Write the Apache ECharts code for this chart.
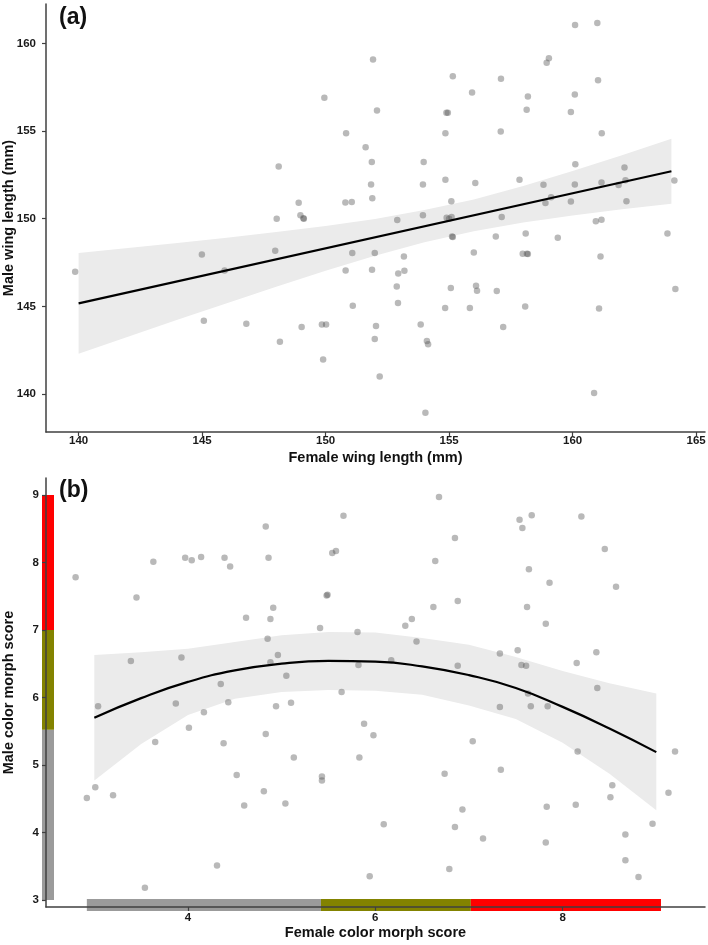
<!DOCTYPE html>
<html>
<head>
<meta charset="utf-8">
<script src="https://cdn.jsdelivr.net/npm/echarts@6/dist/echarts.min.js"></script>
<style>
  html, body { margin: 0; padding: 0; background: #fff; }
  #chart { width: 708px; height: 945px; }
</style>
</head>
<body>
<div id="chart"></div>
<script>
// panel (a) - wing length of pairs
var wingFemale = [149.95, 150.83, 148.1, 148.91, 150.8, 151.06, 148.02, 148.98, 149.1, 149.12,
  160.1, 161.0, 151.92, 159.04, 158.95, 155.15, 157.1, 161.03, 155.93, 158.19,
  160.09, 152.08, 154.89, 154.95, 158.14, 159.93, 154.85, 157.09, 161.18, 151.62,
  151.87, 153.97, 160.11, 162.1, 151.84, 153.94, 154.85, 156.06, 157.85, 158.82,
  160.09, 161.17, 161.86, 162.14, 164.12, 151.89, 155.09, 159.13, 158.9, 159.93,
  162.18, 152.9, 153.94, 154.9, 155.1, 155.0, 157.13, 160.94, 161.17, 155.15,
  155.12, 156.89, 158.1, 159.4, 163.84, 139.86, 144.99, 147.96, 151.08, 145.91,
  150.81, 151.1, 145.07, 146.79, 149.03, 149.85, 150.02, 148.15, 149.9, 151.99,
  153.17, 156.0, 157.98, 158.19, 158.15, 161.13, 151.88, 152.94, 153.19, 152.88,
  155.07, 156.09, 156.13, 156.93, 164.16, 152.93, 154.84, 155.84, 158.08, 161.07,
  152.04, 153.85, 157.19, 151.99, 154.1, 154.15, 152.19, 160.87, 154.04];
var wingMale = [156.9, 154.87, 152.98, 150.91, 150.92, 150.96, 150.0, 150.2, 150.03, 150.0,
  161.05, 161.17, 159.08, 159.16, 158.9, 158.13, 157.99, 157.9, 157.2, 156.97,
  157.08, 156.17, 156.05, 156.05, 156.21, 156.09, 154.88, 154.97, 154.88, 154.08,
  153.23, 153.24, 153.11, 152.92, 151.95, 151.95, 152.22, 152.03, 152.22, 151.93,
  151.95, 152.06, 151.92, 152.2, 152.18, 151.17, 151.0, 151.23, 150.89, 150.98,
  151.0, 149.92, 150.2, 150.05, 150.1, 150.0, 150.1, 149.86, 149.94, 148.95,
  148.98, 148.99, 149.16, 148.91, 149.16, 146.97, 147.96, 148.17, 148.04, 147.05,
  147.05, 145.03, 144.18, 144.01, 143.82, 143.97, 143.97, 142.98, 141.97, 148.04,
  147.85, 148.07, 148.0, 147.98, 148.0, 147.85, 147.09, 146.88, 147.03, 146.13,
  146.04, 146.17, 145.89, 145.87, 145.99, 145.19, 144.9, 144.9, 144.99, 144.88,
  143.88, 143.97, 143.82, 143.14, 143.02, 142.83, 141.0, 140.06, 138.93];
var wingFitX = [140, 164];
var wingFitY = [145.17, 152.71];
var wingBandX = [140, 142, 144, 146, 148, 150, 152, 154, 156, 158, 160, 162, 164];
var wingUpper = [148.04, 148.33, 148.62, 148.92, 149.24, 149.59, 149.99, 150.49, 151.10, 151.86, 152.72, 153.62, 154.56];
var wingLower = [142.30, 143.27, 144.24, 145.18, 146.12, 147.03, 147.89, 148.65, 149.28, 149.78, 150.18, 150.54, 150.86];
var wingXTicks = [140, 145, 150, 155, 160, 165];
var wingYTicks = [140, 145, 150, 155, 160];

// panel (b) - colour morph scores
var morphFemale = [2.80, 3.45, 3.63, 3.97, 4.04, 4.14, 4.39, 4.45, 4.83, 4.86,
  5.66, 5.54, 5.58, 5.48, 5.49, 4.62, 4.91, 4.88, 5.41, 5.81,
  4.85, 4.96, 4.88, 3.39, 3.93, 5.05, 4.35, 5.64, 5.82, 6.68,
  7.54, 7.67, 7.57, 8.20, 6.85, 8.45, 6.64, 7.64, 7.86, 8.57,
  6.62, 6.88, 7.62, 7.82, 6.32, 6.39, 6.44, 7.33, 7.52, 8.36,
  6.17, 6.88, 7.56, 7.61, 8.15, 8.37, 7.63, 3.04, 3.87, 4.43,
  4.17, 4.94, 5.10, 4.01, 3.65, 4.38, 4.83, 5.13, 5.83, 3.01,
  2.92, 3.20, 4.52, 5.43, 5.43, 4.81, 4.60, 5.04, 4.31, 3.54,
  7.33, 7.66, 7.84, 5.88, 5.98, 7.04, 8.16, 9.20, 6.74, 7.34,
  8.53, 8.51, 9.13, 7.83, 8.14, 6.93, 6.09, 6.85, 7.15, 7.82,
  8.67, 8.96, 8.67, 8.81, 5.94, 6.79];
var morphMale = [7.78, 7.48, 8.01, 8.07, 8.03, 8.08, 8.07, 7.94, 8.53, 8.07,
  8.69, 8.14, 8.17, 7.51, 7.52, 7.18, 7.33, 7.16, 7.03, 6.97,
  6.87, 6.63, 6.52, 6.54, 6.59, 6.32, 6.20, 6.08, 6.48, 8.97,
  8.63, 8.70, 8.51, 8.68, 8.36, 8.20, 8.02, 7.90, 7.70, 7.64,
  7.34, 7.43, 7.34, 7.09, 7.06, 7.16, 6.83, 6.65, 6.70, 6.67,
  6.55, 6.47, 6.48, 6.47, 6.51, 6.14, 6.06, 5.87, 5.91, 5.93,
  5.78, 5.87, 5.92, 5.55, 5.34, 5.32, 5.46, 5.11, 5.11, 4.67,
  4.51, 4.55, 4.85, 4.83, 4.77, 4.61, 4.40, 4.43, 3.51, 3.18,
  5.86, 5.87, 5.87, 5.61, 5.44, 5.35, 5.20, 5.20, 4.87, 4.93,
  4.70, 4.52, 4.59, 4.38, 4.41, 4.34, 4.12, 4.08, 3.91, 3.85,
  3.97, 4.13, 3.59, 3.34, 3.35, 3.46];
var morphFitX = [3, 3.5, 4, 4.5, 5, 5.5, 6, 6.5, 7, 7.5, 8, 8.5, 9];
var morphFitY = [5.70, 5.99, 6.23, 6.40, 6.50, 6.54, 6.53, 6.46, 6.33, 6.14, 5.86, 5.54, 5.19];
var morphUpper = [6.63, 6.67, 6.72, 6.82, 6.92, 6.97, 6.96, 6.88, 6.78, 6.60, 6.39, 6.21, 6.06];
var morphLower = [4.77, 5.31, 5.74, 5.98, 6.08, 6.11, 6.10, 6.04, 5.88, 5.68, 5.33, 4.87, 4.33];
var morphXTicks = [4, 6, 8];
var morphYTicks = [3, 4, 5, 6, 7, 8, 9];
var morphBarColors = ['#9b9b9b', '#838300', '#ff0000'];
var morphYBreaks = [3, 5.52, 7, 9];
var morphXBreaks = [2.92, 5.42, 7.02, 9.05];

var FONT = '"Liberation Sans", Arial, sans-serif';
var AXIS_COLOR = '#404040';

function pairs(xs, ys) {
  var out = [];
  for (var i = 0; i < xs.length; i++) out.push([xs[i], ys[i]]);
  return out;
}

function segments(breaks) {
  var out = [];
  for (var i = 0; i < breaks.length - 1; i++) out.push([breaks[i], breaks[i + 1], i]);
  return out;
}

function bandSeries(idx, xs, lo, hi) {
  return {
    type: 'custom',
    xAxisIndex: idx,
    yAxisIndex: idx,
    silent: true,
    z: 1,
    data: [0],
    renderItem: function (params, api) {
      var pts = [];
      for (var i = 0; i < xs.length; i++) pts.push(api.coord([xs[i], hi[i]]));
      for (var j = xs.length - 1; j >= 0; j--) pts.push(api.coord([xs[j], lo[j]]));
      return { type: 'polygon', shape: { points: pts }, style: { fill: '#ebebeb' } };
    }
  };
}

function valueAxis(grid, min, max, ticks, pos, margin, name, gap) {
  return {
    type: 'value',
    gridIndex: grid,
    position: pos,
    min: min,
    max: max,
    z: 10,
    name: name,
    nameLocation: 'middle',
    nameGap: gap,
    nameMoveOverlap: false,
    nameTextStyle: { fontFamily: FONT, fontWeight: 'bold', fontSize: 14.5, color: '#111' },
    splitLine: { show: false },
    axisLine: { show: true, onZero: false, lineStyle: { color: AXIS_COLOR, width: 1.5 } },
    axisTick: { show: true, length: 4, customValues: ticks, lineStyle: { color: AXIS_COLOR, width: 1.2 } },
    axisLabel: {
      customValues: ticks,
      margin: margin,
      fontFamily: FONT,
      fontWeight: 'bold',
      fontSize: 11.5,
      color: '#1a1a1a'
    }
  };
}

var chart = echarts.init(document.getElementById('chart'), null, { renderer: 'canvas' });

var option = {
  animation: false,
  backgroundColor: '#ffffff',
  title: [
    { text: '(a)', left: 59, top: 6, padding: 0, textStyle: { fontFamily: FONT, fontWeight: 'bold', fontSize: 23, color: '#111' } },
    { text: '(b)', left: 59, top: 479, padding: 0, textStyle: { fontFamily: FONT, fontWeight: 'bold', fontSize: 23, color: '#111' } }
  ],
  grid: [
    { left: 46, right: 3, top: 4, height: 428, outerBoundsMode: 'none' },
    { left: 46, right: 3, top: 478, bottom: 38, outerBoundsMode: 'none' }
  ],
  xAxis: [
    valueAxis(0, 138.68, 165.36, wingXTicks, 'bottom', 3, 'Female wing length (mm)', 18),
    valueAxis(1, 2.484, 9.52, morphXTicks, 'bottom', 5, 'Female color morph score', 18)
  ],
  yAxis: [
    valueAxis(0, 137.83, 162.25, wingYTicks, 'left', 10, 'Male wing length (mm)', 30),
    valueAxis(1, 2.896, 9.25, morphYTicks, 'left', 7, 'Male color morph score', 30)
  ],
  series: [
    bandSeries(0, wingBandX, wingLower, wingUpper),
    {
      type: 'scatter',
      xAxisIndex: 0,
      yAxisIndex: 0,
      z: 2,
      symbolSize: 6.5,
      itemStyle: { color: 'rgba(80,80,80,0.5)' },
      data: pairs(wingFemale, wingMale)
    },
    {
      type: 'line',
      xAxisIndex: 0,
      yAxisIndex: 0,
      z: 3,
      showSymbol: false,
      lineStyle: { color: '#000', width: 2.2 },
      data: pairs(wingFitX, wingFitY)
    },
    bandSeries(1, morphFitX, morphLower, morphUpper),
    {
      type: 'scatter',
      xAxisIndex: 1,
      yAxisIndex: 1,
      z: 2,
      symbolSize: 6.5,
      itemStyle: { color: 'rgba(80,80,80,0.5)' },
      data: pairs(morphFemale, morphMale)
    },
    {
      type: 'line',
      xAxisIndex: 1,
      yAxisIndex: 1,
      z: 3,
      smooth: true,
      showSymbol: false,
      lineStyle: { color: '#000', width: 2.2 },
      data: pairs(morphFitX, morphFitY)
    },
    {
      // colour key along the y axis
      type: 'custom',
      xAxisIndex: 1,
      yAxisIndex: 1,
      clip: false,
      silent: true,
      z: 4,
      data: segments(morphYBreaks),
      renderItem: function (params, api) {
        var cs = params.coordSys;
        var y0 = api.coord([morphXBreaks[0], api.value(0)])[1];
        var y1 = api.coord([morphXBreaks[0], api.value(1)])[1];
        return {
          type: 'rect',
          shape: { x: cs.x - 4, y: y1, width: 12, height: y0 - y1 },
          style: { fill: morphBarColors[api.value(2)] }
        };
      }
    },
    {
      // colour key along the x axis
      type: 'custom',
      xAxisIndex: 1,
      yAxisIndex: 1,
      clip: false,
      silent: true,
      z: 4,
      data: segments(morphXBreaks),
      renderItem: function (params, api) {
        var cs = params.coordSys;
        var x0 = api.coord([api.value(0), morphYBreaks[0]])[0];
        var x1 = api.coord([api.value(1), morphYBreaks[0]])[0];
        return {
          type: 'rect',
          shape: { x: x0, y: cs.y + cs.height - 8, width: x1 - x0, height: 12 },
          style: { fill: morphBarColors[api.value(2)] }
        };
      }
    }
  ]
};

chart.setOption(option);
</script>
</body>
</html>
